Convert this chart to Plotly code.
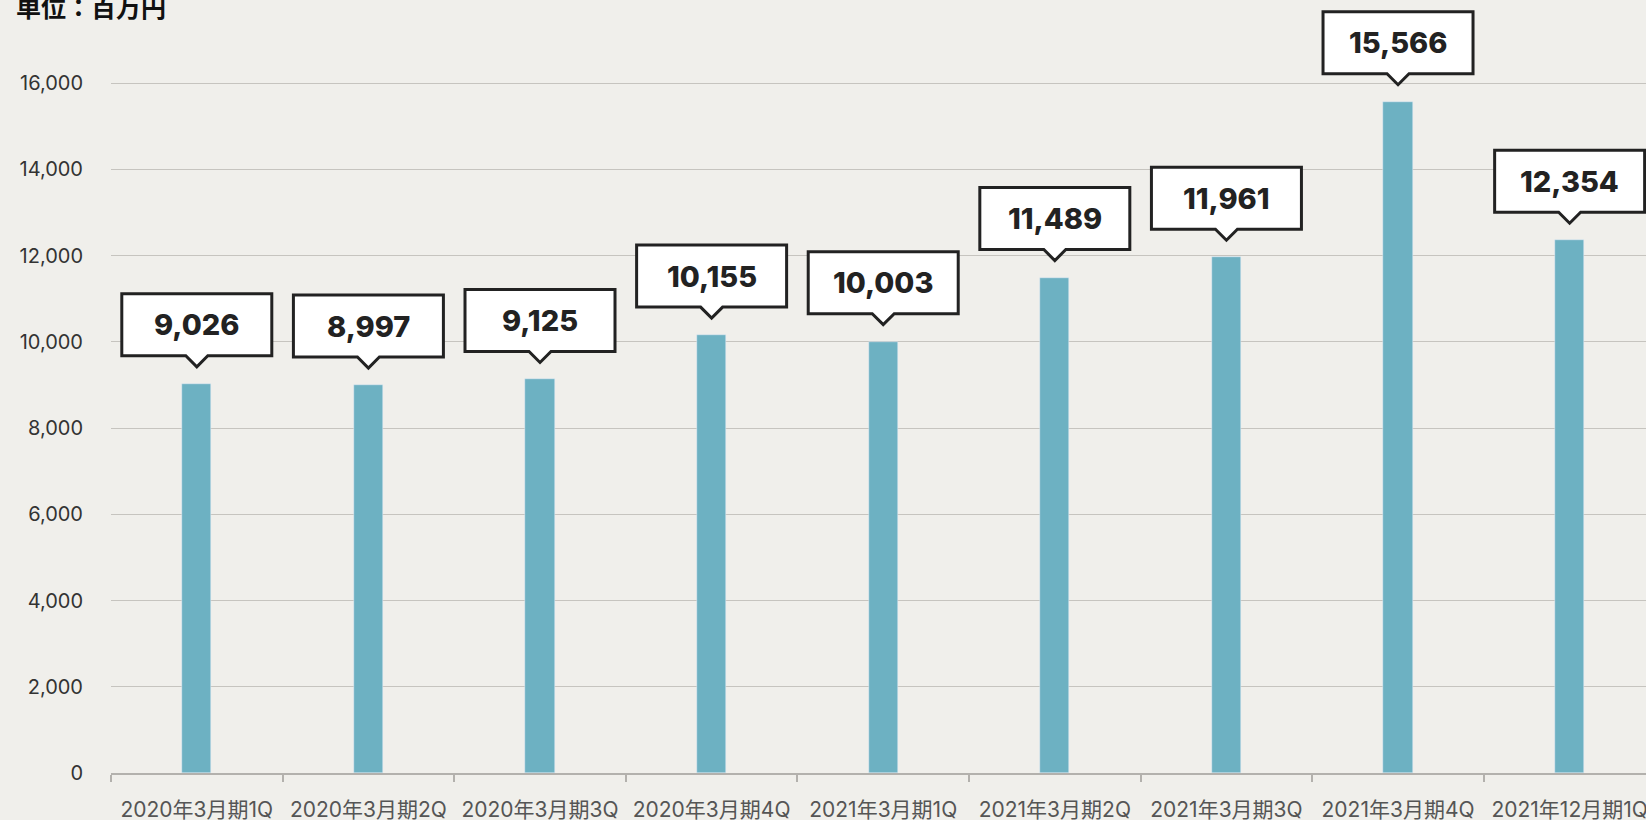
import plotly.graph_objects as go

# Data (単位：百万円)
periods = ["2020年3月期1Q", "2020年3月期2Q", "2020年3月期3Q", "2020年3月期4Q",
           "2021年3月期1Q", "2021年3月期2Q", "2021年3月期3Q", "2021年3月期4Q",
           "2021年12月期1Q"]
sales = [9026, 8997, 9125, 10155, 10003, 11489, 11961, 15566, 12354]
y_ticks = [0, 2000, 4000, 6000, 8000, 10000, 12000, 14000, 16000]

BG = "#F0EFEB"
BAR = "#6DB1C2"
INK = "#222222"

fig = go.Figure()
fig.add_trace(go.Bar(x=periods, y=sales, marker_color=BAR, width=0.17,
                     hoverinfo="x+y"))

# speech-bubble callouts, drawn in pixel offsets anchored on each bar top
bubble = "M -75,28 L -11,28 L 0,17 L 11,28 L 75,28 L 75,90 L -75,90 Z"
for p, v in zip(periods, sales):
    fig.add_shape(type="path", xref="x", yref="y", xsizemode="pixel", ysizemode="pixel",
                  xanchor=p, yanchor=v, path=bubble, fillcolor="white",
                  line=dict(color=INK, width=3), layer="above")
    fig.add_annotation(x=p, y=v, text=f"{v:,}", showarrow=False, yshift=59,
                       font=dict(family="Inter", size=29, color=INK, weight=800))

fig.add_annotation(xref="paper", yref="paper", x=0, y=1, xanchor="left", yanchor="middle",
                   xshift=-97, yshift=-6, text="<b>単位：百万円</b>", showarrow=False,
                   font=dict(family="Noto Sans CJK JP", size=25, color="#111"))

fig.update_layout(
    width=1646, height=820,
    margin=dict(l=111, r=0, t=0, b=47),
    paper_bgcolor=BG, plot_bgcolor=BG,
    showlegend=False, bargap=0,
    font=dict(family="Inter, Noto Sans CJK JP", color="#444"),
)
fig.update_xaxes(range=[-0.5, 8.445], showline=True, linecolor="#B3B1AD", linewidth=2,
                 ticks="outside", tickson="boundaries", ticklen=7, tickcolor="#B3B1AD",
                 tickwidth=2, showgrid=False, ticklabelstandoff=17, tickangle=0,
                 automargin=False,
                 tickfont=dict(family="Inter, Noto Sans CJK JP", size=21, color="#555"))
fig.update_yaxes(range=[0, 17925], tickvals=y_ticks, tickformat=",", showgrid=True,
                 gridcolor="#C6C4BF", gridwidth=1, zeroline=False, ticks="",
                 ticklabelstandoff=27, automargin=False,
                 tickfont=dict(family="Inter", size=20, color="#333"))

# drop the page's default body margin so the figure sits at the window corner
fig.write_html("out.html", config={"displayModeBar": False},
               post_script="document.body.style.margin='0';")
